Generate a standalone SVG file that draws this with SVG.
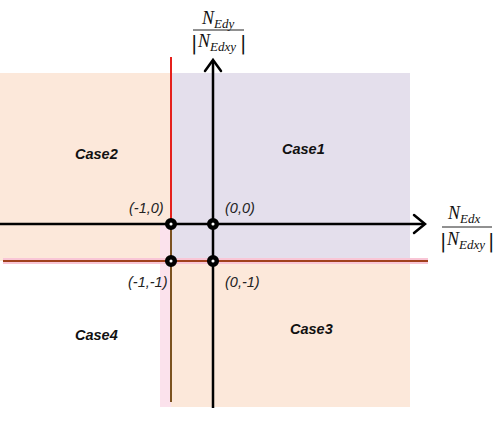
<svg xmlns="http://www.w3.org/2000/svg" width="500" height="438" viewBox="0 0 500 438">
  <style>
    .case { font-family: "Liberation Sans", Arial, sans-serif; font-weight: bold; font-style: italic; font-size: 14.5px; fill: #111; }
    .coord { font-family: "Liberation Sans", Arial, sans-serif; font-style: italic; font-size: 14.5px; fill: #222; }
    .m { font-family: "Liberation Serif", "DejaVu Serif", serif; font-style: italic; font-size: 18px; fill: #111; }
    .sub { font-size: 13px; }
    .bar { font-family: "DejaVu Sans", sans-serif; font-style: normal; font-size: 19px; fill: #111; }
    .axis { stroke: #000; stroke-width: 2.5; fill: none; }
    .head { stroke: #000; stroke-width: 2.5; fill: none; stroke-linecap: round; stroke-linejoin: miter; }
    .dot { fill: #fff; stroke: #000; stroke-width: 4.5; }
    .frac { stroke: #222; stroke-width: 1; }
  </style>

  <rect width="500" height="438" fill="#fff"/>

  <g id="regions">
    <rect id="case2-region" x="0" y="73" width="171" height="188" fill="#FCE8DA"/>
    <rect id="case1-region" x="171" y="73" width="239" height="188" fill="#E4DFEC"/>
    <rect id="case3-region" x="171" y="261" width="239" height="146" fill="#FCE8DA"/>
    <rect id="pink-strip" x="160" y="224" width="11" height="183" fill="#FBE2EC"/>
  </g>

  <g id="boundaries">
    <line x1="3" y1="261" x2="428" y2="261" stroke="#F9C6D6" stroke-width="6"/>
    <line x1="3" y1="261" x2="428" y2="261" stroke="#A0401C" stroke-width="2.2"/>
    <line x1="171" y1="57" x2="171" y2="224" stroke="#E5201C" stroke-width="2"/>
    <line x1="171" y1="224" x2="171" y2="402" stroke="#7B5220" stroke-width="2"/>
  </g>

  <g id="connectors">
    <line class="axis" x1="0" y1="224" x2="424" y2="224"/>
    <polyline class="head" points="414,215 425,224 414,233"/>
    <line class="axis" x1="213" y1="61" x2="213" y2="408"/>
    <polyline class="head" points="205,71 213,60 221,71"/>
  </g>

  <g id="node-m1-0"><circle class="dot" cx="171" cy="224" r="3.8"/><text class="coord" x="129" y="213">(-1,0)</text></g>
  <g id="node-0-0"><circle class="dot" cx="213" cy="224" r="3.8"/><text class="coord" x="225" y="213">(0,0)</text></g>
  <g id="node-m1-m1"><circle class="dot" cx="171" cy="261" r="3.8"/><text class="coord" x="128" y="287">(-1,-1)</text></g>
  <g id="node-0-m1"><circle class="dot" cx="213" cy="261" r="3.8"/><text class="coord" x="225" y="287">(0,-1)</text></g>

  <g id="case-labels">
    <text class="case" x="75" y="159">Case2</text>
    <text class="case" x="282" y="154">Case1</text>
    <text class="case" x="75" y="340">Case4</text>
    <text class="case" x="290" y="334">Case3</text>
  </g>

  <g id="y-label">
    <text class="m" x="202" y="24">N<tspan class="sub" dy="4">Edy</tspan></text>
    <line class="frac" x1="193" y1="30" x2="244" y2="30"/>
    <text class="bar" x="191" y="50">|</text>
    <text class="m" x="198" y="47">N<tspan class="sub" dy="4">Edxy</tspan></text>
    <text class="bar" x="240" y="50">|</text>
  </g>

  <g id="x-label">
    <text class="m" x="448" y="219">N<tspan class="sub" dy="4">Edx</tspan></text>
    <line class="frac" x1="442" y1="227" x2="492" y2="227"/>
    <text class="bar" x="440" y="248">|</text>
    <text class="m" x="447" y="245">N<tspan class="sub" dy="4">Edxy</tspan></text>
    <text class="bar" x="488" y="248">|</text>
  </g>
</svg>
